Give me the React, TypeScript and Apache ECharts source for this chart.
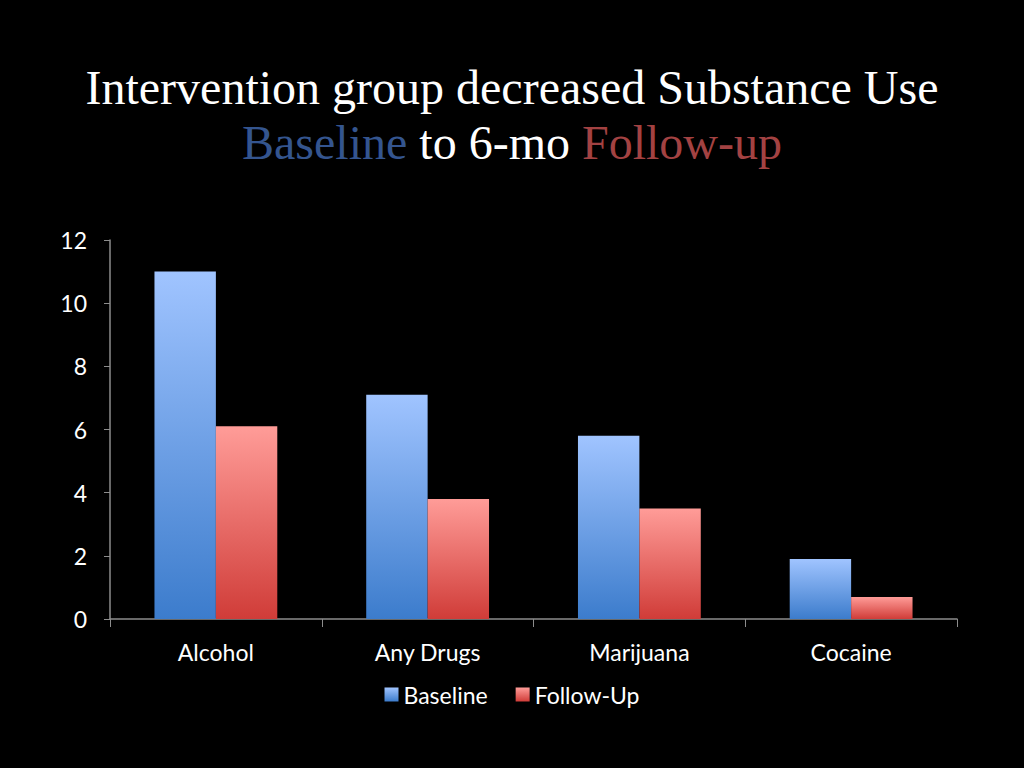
import React, { useEffect, useRef } from "react";
import * as echarts from "echarts";

const categories = ["Alcohol", "Any Drugs", "Marijuana", "Cocaine"];
const baseline = [11, 7.1, 5.8, 1.9];
const followUp = [6.1, 3.8, 3.5, 0.7];
const seriesNames = ["Baseline", "Follow-Up"];

export default function App() {
  const ref = useRef<HTMLDivElement>(null);
  useEffect(() => {
    if (!ref.current) return;
    const chart = echarts.init(ref.current, null, { renderer: "svg" });
    const blue = new echarts.graphic.LinearGradient(0, 0, 0, 1, [
      { offset: 0, color: "#a0c4ff" },
      { offset: 1, color: "#3c7ccc" },
    ]);
    const red = new echarts.graphic.LinearGradient(0, 0, 0, 1, [
      { offset: 0, color: "#ff9c98" },
      { offset: 1, color: "#d03c38" },
    ]);
    chart.setOption({
      animation: false,
      backgroundColor: "#000000",
      title: {
        left: "center",
        top: 55,
        text: "Intervention group decreased Substance Use\n{b|Baseline} to 6-mo {r|Follow-up}",
        textStyle: {
          color: "#ffffff",
          fontFamily: "Liberation Serif",
          fontSize: 48,
          fontWeight: "normal",
          lineHeight: 55,
          rich: {
            b: { color: "#34558f", fontFamily: "Liberation Serif", fontSize: 48, lineHeight: 55 },
            r: { color: "#a34242", fontFamily: "Liberation Serif", fontSize: 48, lineHeight: 55 },
          },
        },
      },
      legend: {
        data: seriesNames,
        top: 678,
        left: "center",
        itemWidth: 14,
        itemHeight: 14,
        itemGap: 28,
        icon: "rect",
        textStyle: { color: "#ffffff", fontFamily: "Lato", fontSize: 23 },
      },
      grid: { left: 110, right: 67, top: 240, bottom: 149 },
      xAxis: {
        type: "category",
        data: categories,
        axisLine: { lineStyle: { color: "#8c8c8c", width: 1.5 } },
        axisTick: { show: true, length: 8, alignWithLabel: false, lineStyle: { color: "#8c8c8c" } },
        axisLabel: { color: "#ffffff", fontFamily: "Lato", fontSize: 23, margin: 21 },
      },
      yAxis: {
        type: "value",
        min: 0,
        max: 12,
        interval: 2,
        splitLine: { show: false },
        axisLine: { show: true, lineStyle: { color: "#8c8c8c", width: 1.5 } },
        axisTick: { show: true, length: 6, lineStyle: { color: "#8c8c8c" } },
        axisLabel: { color: "#ffffff", fontFamily: "Lato", fontSize: 23, margin: 23 },
      },
      series: [
        {
          name: seriesNames[0],
          type: "bar",
          data: baseline,
          barGap: "0%",
          barCategoryGap: "42%",
          itemStyle: { color: blue },
        },
        {
          name: seriesNames[1],
          type: "bar",
          data: followUp,
          barGap: "0%",
          barCategoryGap: "42%",
          itemStyle: { color: red },
        },
      ],
    });
    return () => chart.dispose();
  }, []);
  return (
    <div
      ref={ref}
      style={{ position: "fixed", left: 0, top: 0, width: 1024, height: 768, background: "#000" }}
    />
  );
}
